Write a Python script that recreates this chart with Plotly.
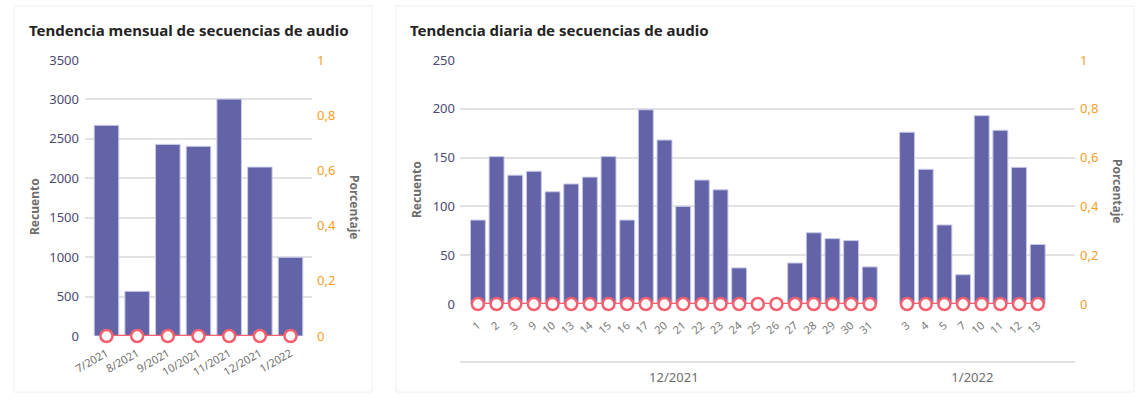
import plotly.graph_objects as go

W, H = 1148, 399

# ---------------- data ----------------
monthly_labels = ["7/2021", "8/2021", "9/2021", "10/2021", "11/2021", "12/2021", "1/2022"]
monthly_counts = [2671, 566, 2430, 2405, 3004, 2142, 998]
monthly_pct = [0, 0, 0, 0, 0, 0, 0]

dec_days = ["1", "2", "3", "9", "10", "13", "14", "15", "16", "17", "20", "21",
            "22", "23", "24", "25", "26", "27", "28", "29", "30", "31"]
dec_counts = [86, 151, 132, 136, 115, 123, 130, 151, 86, 199, 168, 100,
              127, 117, 37, 0, 0, 42, 73, 67, 65, 38]
dec_pct = [0] * len(dec_days)

jan_days = ["3", "4", "5", "7", "10", "11", "12", "13"]
jan_counts = [176, 138, 81, 30, 193, 178, 140, 61]
jan_pct = [0] * len(jan_days)

month_groups = ["12/2021", "1/2022"]

# ---------------- style ----------------
BAR = "#6264a7"
LINE = "#f4606f"
ORANGE = "#f7a026"
TICK = "#4b4a70"
GRAY = "#6e6e6e"
GRID = "#e3e3e6"
FONT = "Noto Sans"


def px_x(p):
    return p / W


def px_y(p):
    return 1 - p / H


# build daily positions (one empty slot between months)
day_pos, day_labels, day_counts, day_pct = [], [], [], []
for i, d in enumerate(dec_days):
    day_pos.append(i)
    day_labels.append(d)
    day_counts.append(dec_counts[i])
    day_pct.append(dec_pct[i])
gap = len(dec_days)
line_x = list(day_pos) + [gap]
line_y = list(day_pct) + [None]
jan_start = gap + 1
for j, d in enumerate(jan_days):
    day_pos.append(jan_start + j)
    day_labels.append(d)
    day_counts.append(jan_counts[j])
    day_pct.append(jan_pct[j])
    line_x.append(jan_start + j)
    line_y.append(jan_pct[j])

group_centers = [(len(dec_days) - 1) / 2, jan_start + (len(jan_days) - 1) / 2]

fig = go.Figure()

marker_style = dict(size=12, color="white", line=dict(color=LINE, width=2.5))

# ---- monthly ----
fig.add_trace(go.Bar(x=monthly_labels, y=monthly_counts, marker=dict(color=BAR, line=dict(color="#c9cae8", width=1)),
                     xaxis="x", yaxis="y", hoverinfo="skip", showlegend=False))
fig.add_trace(go.Scatter(x=monthly_labels, y=monthly_pct, mode="lines+markers", cliponaxis=False,
                         line=dict(color=LINE, width=2.5), marker=marker_style,
                         xaxis="x", yaxis="y2", hoverinfo="skip", showlegend=False))

# ---- daily ----
fig.add_trace(go.Bar(x=day_pos, y=day_counts, marker=dict(color=BAR, line=dict(color="#c9cae8", width=1)),
                     xaxis="x2", yaxis="y3", hoverinfo="skip", showlegend=False))
fig.add_trace(go.Scatter(x=line_x, y=line_y, mode="lines+markers", connectgaps=False, cliponaxis=False,
                         line=dict(color=LINE, width=2.5), marker=marker_style,
                         xaxis="x2", yaxis="y4", hoverinfo="skip", showlegend=False))
# invisible trace for month group axis
fig.add_trace(go.Scatter(x=group_centers, y=[None, None], xaxis="x3", yaxis="y3",
                         hoverinfo="skip", showlegend=False))

left_x = [px_x(85), px_x(312)]
left_y = [px_y(336), px_y(60)]
right_x = [px_x(460), px_x(1075)]
right_y = [px_y(304), px_y(60)]

tickfont_l = dict(family=FONT, size=13, color=TICK)
tickfont_r = dict(family=FONT, size=13, color=ORANGE)

fig.update_layout(
    template="none",
    width=W, height=H,
    margin=dict(l=0, r=0, t=0, b=0, pad=0),
    paper_bgcolor="white", plot_bgcolor="white",
    separators=", ",
    bargap=0.2,
    showlegend=False,
    font=dict(family=FONT),
    xaxis=dict(domain=left_x, anchor="y", type="category", range=[-0.7, 6.7], automargin=False,
               showgrid=False, zeroline=False, showline=False, ticks="", ticklabelstandoff=8,
               tickangle=-30, tickfont=dict(family=FONT, size=11, color=GRAY)),
    yaxis=dict(domain=left_y, anchor="x", range=[0, 3500], dtick=500, automargin=False,
               showgrid=True, gridcolor=GRID, gridwidth=1.5, zeroline=False,
               showline=False, ticks="", ticklabelstandoff=5, tickfont=tickfont_l),
    yaxis2=dict(overlaying="y", side="right", anchor="x", range=[0, 1], dtick=0.2, automargin=False,
                showgrid=False, zeroline=False, showline=False, ticks="", ticklabelstandoff=4,
                tickfont=tickfont_r),
    xaxis2=dict(domain=right_x, anchor="y3", range=[-0.96, 32.0], automargin=False,
                tickmode="array", tickvals=day_pos, ticktext=day_labels,
                showgrid=False, zeroline=False, showline=False, ticks="", ticklabelstandoff=12,
                tickangle=-40, tickfont=dict(family=FONT, size=11, color="#777777")),
    yaxis3=dict(domain=right_y, anchor="x2", range=[0, 250], dtick=50, automargin=False,
                showgrid=True, gridcolor=GRID, gridwidth=1.5, zeroline=False,
                showline=False, ticks="", ticklabelstandoff=4, tickfont=tickfont_l),
    yaxis4=dict(overlaying="y3", side="right", anchor="x2", range=[0, 1], dtick=0.2, automargin=False,
                showgrid=False, zeroline=False, showline=False, ticks="", ticklabelstandoff=4,
                tickfont=tickfont_r),
    xaxis3=dict(overlaying="x2", anchor="free", position=px_y(362), range=[-0.96, 32.0], automargin=False,
                tickmode="array", tickvals=group_centers, ticktext=month_groups,
                showgrid=False, zeroline=False, showline=True, linecolor=GRID, linewidth=1.5,
                ticks="", ticklabelstandoff=4, tickfont=dict(family=FONT, size=13, color=GRAY)),
)

# cards
card_line = "#eeeef6"
fig.add_shape(type="rect", xref="paper", yref="paper", x0=px_x(14), x1=px_x(372), y0=px_y(392), y1=px_y(6),
              line=dict(color=card_line, width=1), layer="below")
fig.add_shape(type="rect", xref="paper", yref="paper", x0=px_x(396), x1=px_x(1134), y0=px_y(392), y1=px_y(6),
              line=dict(color=card_line, width=1), layer="below")

title_font = dict(family=FONT, size=15, color="#242424")
axis_title_font = dict(family=FONT, size=12, color=GRAY)
annos = [
    dict(text="<b>Tendencia mensual de secuencias de audio</b>", x=px_x(27), y=px_y(30),
         xanchor="left", yanchor="middle", font=title_font),
    dict(text="<b>Tendencia diaria de secuencias de audio</b>", x=px_x(408), y=px_y(30),
         xanchor="left", yanchor="middle", font=title_font),
    dict(text="<b>Recuento</b>", x=px_x(34), y=px_y(207), textangle=-90,
         xanchor="center", yanchor="middle", font=axis_title_font),
    dict(text="<b>Porcentaje</b>", x=px_x(355), y=px_y(207), textangle=90,
         xanchor="center", yanchor="middle", font=axis_title_font),
    dict(text="<b>Recuento</b>", x=px_x(416), y=px_y(190), textangle=-90,
         xanchor="center", yanchor="middle", font=axis_title_font),
    dict(text="<b>Porcentaje</b>", x=px_x(1118), y=px_y(191), textangle=90,
         xanchor="center", yanchor="middle", font=axis_title_font),
]
for a in annos:
    fig.add_annotation(xref="paper", yref="paper", showarrow=False, **a)

fig.write_html("out.html", config={"displayModeBar": False},
               post_script="document.body.style.margin='0';")
